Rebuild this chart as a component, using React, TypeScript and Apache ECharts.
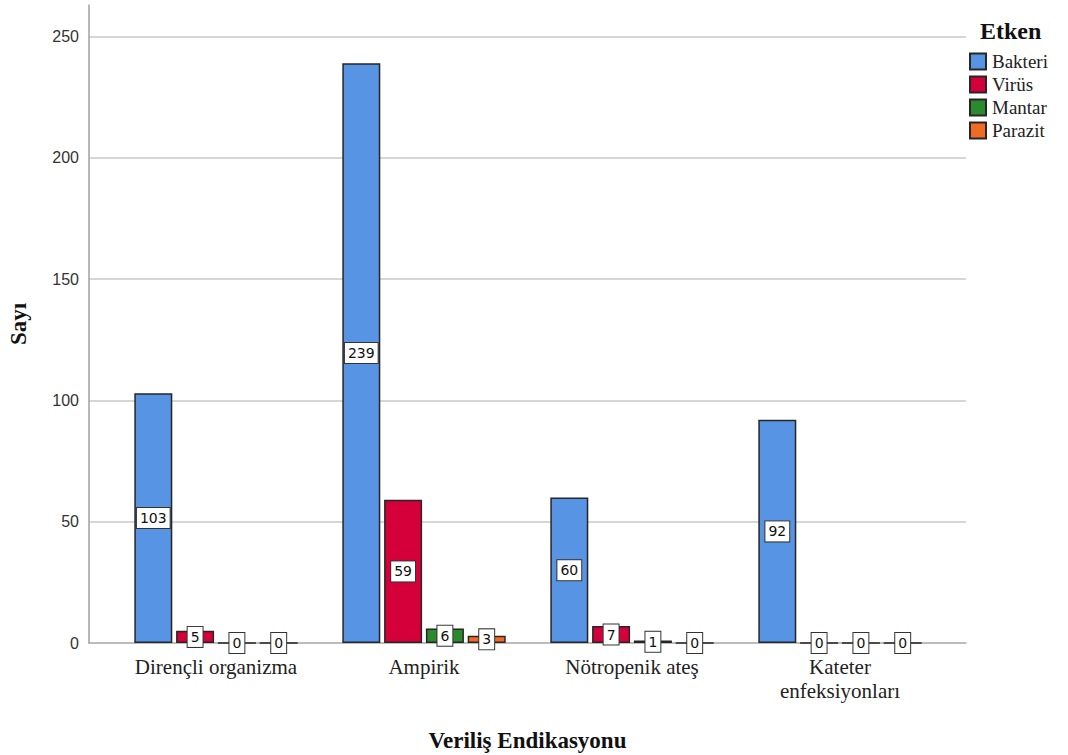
import React, { useEffect, useRef } from "react";
import * as echarts from "echarts";

const categories = ["Dirençli organizma", "Ampirik", "Nötropenik ateş", "Kateter\nenfeksiyonları"];
const seriesNames = ["Bakteri", "Virüs", "Mantar", "Parazit"];
const bakteri = [103, 239, 60, 92];
const virus = [5, 59, 7, 0];
const mantar = [0, 6, 1, 0];
const parazit = [0, 3, 0, 0];
const colors = ["#5794e3", "#d5003a", "#2a8a2e", "#f26b24"];

const serif = "'Liberation Serif', 'DejaVu Serif', serif";
const sans = "'Liberation Sans', Arial, sans-serif";

export default function App() {
  const ref = useRef<HTMLDivElement>(null);

  useEffect(() => {
    if (!ref.current) return;
    const chart = echarts.init(ref.current, undefined, { renderer: "svg" });
    const values = [bakteri, virus, mantar, parazit];
    const yMax = 263;

    chart.setOption({
      animation: false,
      backgroundColor: "#ffffff",
      title: {
        text: "Etken",
        left: 975,
        top: 14,
        textStyle: { fontFamily: serif, fontWeight: "bold", fontSize: 24, color: "#111" },
      },
      legend: {
        orient: "vertical",
        left: 964,
        top: 47,
        itemWidth: 16,
        itemHeight: 16,
        itemGap: 4,
        icon: "rect",
        data: seriesNames,
        textStyle: { fontFamily: serif, fontSize: 19, color: "#222", padding: [0, 0, 0, 1] },
      },
      grid: [
        { left: 89, right: 102, top: 5, bottom: 112, outerBoundsMode: "none" },
        { left: 112, width: 832, top: 5, bottom: 112, outerBoundsMode: "none" },
      ],
      xAxis: [
        {
          type: "value",
          gridIndex: 0,
          min: 0,
          max: 1,
          axisLine: { show: true, lineStyle: { color: "#a6a6a6", width: 1.5 } },
          axisTick: { show: false },
          axisLabel: { show: false },
          splitLine: { show: false },
          name: "Veriliş Endikasyonu",
          nameLocation: "middle",
          nameGap: 86,
          nameTextStyle: { fontFamily: serif, fontWeight: "bold", fontSize: 23, color: "#111" },
        },
        {
          type: "category",
          gridIndex: 1,
          data: categories,
          axisLine: { show: false },
          axisTick: { show: false },
          axisLabel: {
            interval: 0,
            fontFamily: serif,
            fontSize: 21,
            color: "#222",
            margin: 12,
            lineHeight: 24,
          },
        },
      ],
      yAxis: [
        {
          type: "value",
          gridIndex: 0,
          min: 0,
          max: yMax,
          interval: 50,
          axisLine: { show: true, lineStyle: { color: "#a0a0a0", width: 1.5 } },
          axisTick: { show: false },
          axisLabel: { fontFamily: sans, fontSize: 16, color: "#333", margin: 10, showMaxLabel: false },
          splitLine: {
            show: true,
            showMinLine: false,
            showMaxLine: false,
            lineStyle: { color: "#c8c8c8", width: 1.5 },
          },
          name: "Sayı",
          nameLocation: "middle",
          nameGap: 59,
          nameRotate: 90,
          nameTextStyle: { fontFamily: serif, fontWeight: "bold", fontSize: 23, color: "#111" },
        },
        {
          type: "value",
          gridIndex: 1,
          min: 0,
          max: yMax,
          show: false,
          splitLine: { show: false },
        },
      ],
      series: seriesNames.map((name, i) => ({
        name,
        type: "bar",
        xAxisIndex: 1,
        yAxisIndex: 1,
        data: values[i],
        barWidth: 38,
        barGap: "10%",
        itemStyle: {
          color: colors[i],
          borderColor: "#262626",
          borderWidth: 1.5,
        },
        label: {
          show: true,
          position: "inside",
          formatter: "{c}",
          fontFamily: "'DejaVu Sans', sans-serif",
          fontSize: 14,
          color: "#111",
          backgroundColor: "#ffffff",
          borderColor: "#333",
          borderWidth: 1,
          padding: [3, 3, 3, 3],
        },
        z: 3,
      })),
    });

    return () => chart.dispose();
  }, []);

  return (
    <div
      ref={ref}
      style={{ position: "fixed", left: 0, top: 0, width: 1068, height: 755, background: "#fff" }}
    />
  );
}
